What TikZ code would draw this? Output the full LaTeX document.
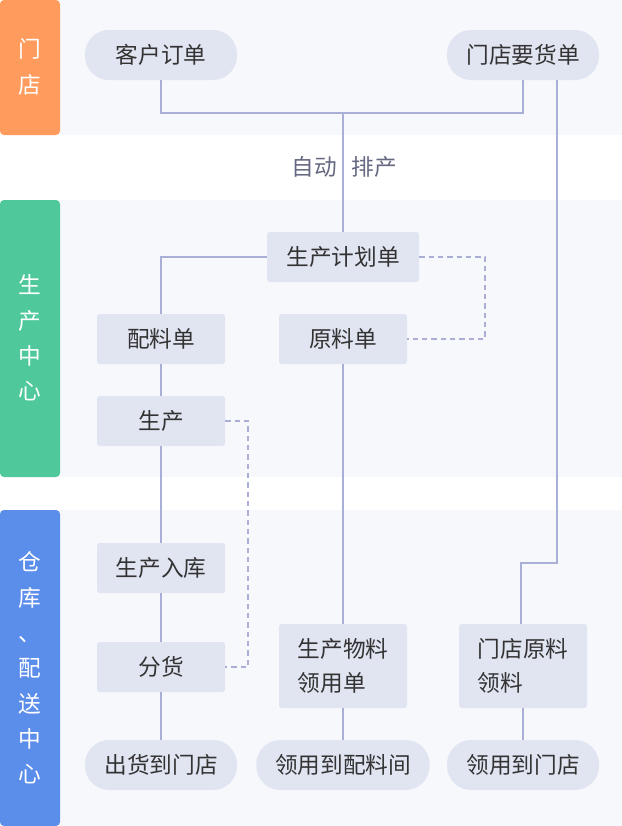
\documentclass[tikz,border=0pt]{standalone}
\usepackage{fontspec}
\setmainfont{Noto Sans CJK SC}
\usetikzlibrary{positioning,calc}
\definecolor{panel}{HTML}{F7F8FC}
\definecolor{boxfill}{HTML}{E1E5F2}
\definecolor{wire}{HTML}{A9AFD6}
\definecolor{txt}{HTML}{333333}
\definecolor{shop}{HTML}{FF9B5C}
\definecolor{prod}{HTML}{4FC99B}
\definecolor{store}{HTML}{5B8DEB}
\begin{document}
\begin{tikzpicture}[x=0.75pt, y=-0.75pt,
        font=\fontsize{17}{25.5}\selectfont, text=txt,
        pill/.style={fill=boxfill, rounded corners=18pt, minimum width=114pt, minimum height=37.5pt, inner sep=0pt},
        box/.style={fill=boxfill, rounded corners=2pt, minimum width=96pt, minimum height=37.5pt, inner sep=0pt, align=left},
        band/.style={rounded corners=3pt},
        side/.style={text=white, align=center, font=\fontsize{17}{26.5}\selectfont},
        link/.style={draw=wire, line width=0.9pt},
        weak/.style={link, dash pattern=on 4pt off 3pt}]
    \useasboundingbox (0,0) rectangle (622,826);
    % bands
    \fill[panel] (60,0) rectangle (622,135);
    \fill[panel] (60,200) rectangle (622,477);
    \fill[panel] (60,510) rectangle (622,826);
    \fill[band, shop] (0,0) rectangle (60,135);
    \fill[band, prod] (0,200) rectangle (60,477);
    \fill[band, store] (0,510) rectangle (60,826);
    \node[side] (lshop) at (30,67) {门\\店};
    \node[side] (lprod) at (30,338) {生\\产\\中\\心};
    \node[side] (lstore) at (30,668) {仓\\库\\、\\配\\送\\中\\心};

    % nodes
    \node[pill] (order) at (161,55) {客户订单};
    \node[pill] (req) at (523,55) {门店要货单};
    \node[box, minimum width=114pt] (plan) at (343,257) {生产计划单};
    \node[box] (mix) at (161,339) {配料单};
    \node[box] (raw) at (343,339) {原料单};
    \node[box] (make) at (161,421) {生产};
    \node[box] (instock) at (161,568) {生产入库};
    \node[box] (split) at (161,667) {分货};
    \node[box, minimum height=63pt] (pick) at (343,666) {生产物料\\领用单};
    \node[box, minimum height=63pt] (shoppick) at (523,666) {门店原料\\领料};
    \node[pill] (ship) at (161,765) {出货到门店};
    \node[pill, minimum width=130pt] (tomix) at (343,765) {领用到配料间};
    \node[pill] (toshop) at (523,765) {领用到门店};
    \coordinate (merge) at (343,113);

    % links
    \draw[link] (order.south) |- (merge) -| (req.south);
    \draw[link] (merge) -- (plan.north);
    \node[fill=white, text=wire!60!black, inner xsep=1pt] (auto) at (314,167) {自动};
    \node[fill=white, text=wire!60!black, inner xsep=1pt] (sched) at (374,167) {排产};
    \draw[link] (plan.west) -| (mix.north);
    \draw[link] (mix) -- (make) -- (instock) -- (split) -- (ship);
    \draw[link] (raw) -- (pick) -- (tomix);
    \draw[link] ($(req.south)+(34,0)$) -- (557,563) -- (521,563) -- (521,624);
    \draw[link] (shoppick) -- (toshop);
    \draw[weak] (plan.east) -- (485,257) |- (raw.east);
    \draw[weak] (make.east) -- (248,421) |- (split.east);
\end{tikzpicture}
\end{document}
